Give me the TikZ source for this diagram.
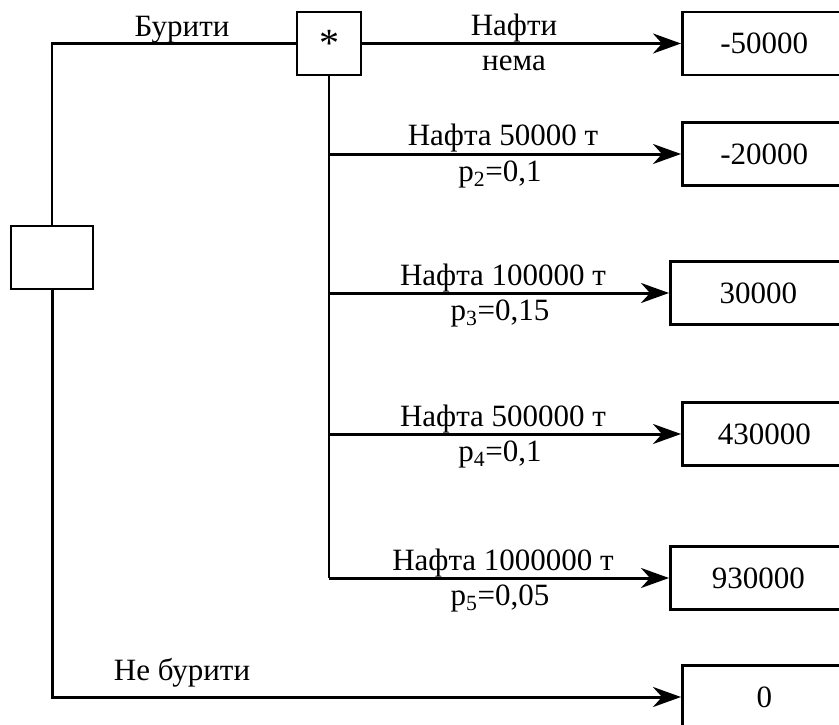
\documentclass[tikz,border=0pt]{standalone}
\usepackage{fontspec}
\setmainfont{Liberation Serif}
\usetikzlibrary{arrows.meta,positioning}

\begin{document}
\begin{tikzpicture}[x=1pt,y=-1pt,line width=2.5pt,
    every node/.style={font=\fontsize{31}{35}\selectfont},
    payoff/.style={draw,anchor=west,minimum width=164pt,minimum height=63pt,inner sep=0pt},
    decision/.style={draw,minimum width=82pt,minimum height=63pt,inner sep=0pt},
    chance/.style={draw,minimum width=64pt,minimum height=63pt,inner sep=0pt},
    branch/.style={line width=3pt,-{Stealth[length=28pt,width=20pt,inset=9pt]}},
    lbl/.style={inner sep=0pt,anchor=base}]
  \useasboundingbox (0,0) rectangle (839,725);
  \node[decision] (root) at (52,257.5) {};
  \node[chance]   (c)    at (329,43.5) {\fontsize{40}{40}\selectfont\raisebox{-0.3em}{*}};
  \node[payoff] (v1) at (681,43.5) {-50000};
  \node[payoff] (v2) at (681,154)  {-20000};
  \node[payoff,minimum width=176pt] (v3) at (669,293) {30000};
  \node[payoff] (v4) at (681,434)  {430000};
  \node[payoff,minimum width=176pt] (v5) at (669,578) {930000};
  \node[payoff] (v6) at (681,697)  {0};

  \draw (root.north) |- (c.west);
  \draw[branch] (root.south) |- (v6.west);
  \draw (c.south) -- (c.south |- v5.west);
  \draw[branch] (c.east) -- (v1);

  \node[lbl] (drill)   at (182,37)  {Бурити};
  \node[lbl] (nodrill) at (182,680) {Не бурити};
  \node[lbl,xshift=185pt,yshift=8pt]   (up1) at (c.south |- v1) {Нафти};
  \node[lbl,xshift=185pt,yshift=-27pt] (lo1) at (c.south |- v1) {нема};

  \foreach \n/\amt/\p in {2/50000/{0,1},3/100000/{0,15},4/500000/{0,1},5/1000000/{0,05}}{
    \draw[branch] (c.south |- v\n) -- (v\n);
    \node[lbl,xshift=174pt,yshift=8pt]   (up\n) at (c.south |- v\n) {Нафта \amt\ т};
    \node[lbl,xshift=171pt,yshift=-27pt] (lo\n) at (c.south |- v\n) {p\textsubscript{\n}=\p};
  }
\end{tikzpicture}
\end{document}
